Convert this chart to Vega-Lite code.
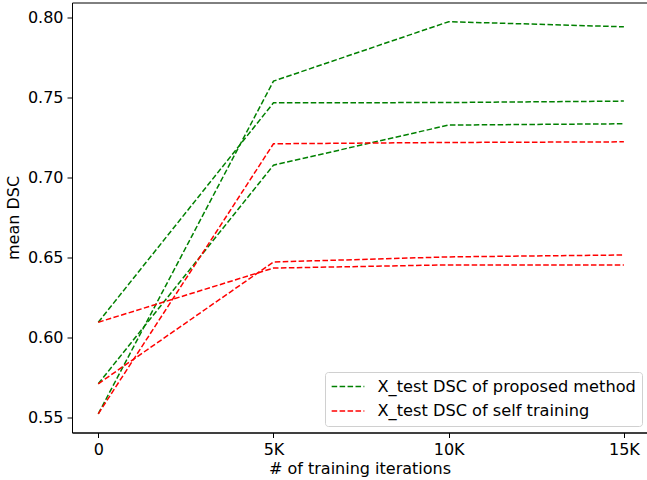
{
  "$schema": "https://vega.github.io/schema/vega-lite/v6.json",
  "autosize": {"type": "none"},
  "padding": {"left": 72, "top": 2.5, "right": 0, "bottom": 47.5},
  "width": 575,
  "height": 430,
  "config": {
    "view": {"stroke": "black", "strokeWidth": 1},
    "font": "DejaVu Sans",
    "axis": {
      "grid": false,
      "domainColor": "black",
      "tickColor": "black",
      "tickSize": 5,
      "labelColor": "black",
      "titleColor": "black",
      "labelFont": "DejaVu Sans",
      "titleFont": "DejaVu Sans",
      "labelFontSize": 16,
      "titleFontSize": 16,
      "titleFontWeight": "normal",
      "labelPadding": 4
    }
  },
  "data": {
    "values": [
      {"run": "g1", "series": "X_test DSC of proposed method", "iter": 0, "dsc": 0.6096},
      {"run": "g1", "series": "X_test DSC of proposed method", "iter": 5000, "dsc": 0.7469},
      {"run": "g1", "series": "X_test DSC of proposed method", "iter": 10000, "dsc": 0.7471},
      {"run": "g1", "series": "X_test DSC of proposed method", "iter": 15000, "dsc": 0.748},
      {"run": "g2", "series": "X_test DSC of proposed method", "iter": 0, "dsc": 0.5711},
      {"run": "g2", "series": "X_test DSC of proposed method", "iter": 5000, "dsc": 0.7079},
      {"run": "g2", "series": "X_test DSC of proposed method", "iter": 10000, "dsc": 0.733},
      {"run": "g2", "series": "X_test DSC of proposed method", "iter": 15000, "dsc": 0.7338},
      {"run": "g3", "series": "X_test DSC of proposed method", "iter": 0, "dsc": 0.5523},
      {"run": "g3", "series": "X_test DSC of proposed method", "iter": 5000, "dsc": 0.7605},
      {"run": "g3", "series": "X_test DSC of proposed method", "iter": 10000, "dsc": 0.7977},
      {"run": "g3", "series": "X_test DSC of proposed method", "iter": 15000, "dsc": 0.7945},
      {"run": "r1", "series": "X_test DSC of self training", "iter": 0, "dsc": 0.6096},
      {"run": "r1", "series": "X_test DSC of self training", "iter": 5000, "dsc": 0.6435},
      {"run": "r1", "series": "X_test DSC of self training", "iter": 10000, "dsc": 0.6455},
      {"run": "r1", "series": "X_test DSC of self training", "iter": 15000, "dsc": 0.6455},
      {"run": "r2", "series": "X_test DSC of self training", "iter": 0, "dsc": 0.5711},
      {"run": "r2", "series": "X_test DSC of self training", "iter": 5000, "dsc": 0.6473},
      {"run": "r2", "series": "X_test DSC of self training", "iter": 10000, "dsc": 0.6505},
      {"run": "r2", "series": "X_test DSC of self training", "iter": 15000, "dsc": 0.6517},
      {"run": "r3", "series": "X_test DSC of self training", "iter": 0, "dsc": 0.5523},
      {"run": "r3", "series": "X_test DSC of self training", "iter": 5000, "dsc": 0.7213},
      {"run": "r3", "series": "X_test DSC of self training", "iter": 10000, "dsc": 0.7221},
      {"run": "r3", "series": "X_test DSC of self training", "iter": 15000, "dsc": 0.7225}
    ]
  },
  "mark": {"type": "line", "strokeWidth": 1.5, "strokeDash": [5.55, 2.4]},
  "encoding": {
    "x": {
      "field": "iter",
      "type": "quantitative",
      "scale": {"domain": [-750, 15660], "nice": false, "zero": false},
      "axis": {
        "title": "# of training iterations",
        "values": [0, 5000, 10000, 15000],
        "labelExpr": "datum.value == 0 ? '0' : (datum.value / 1000) + 'K'",
        "labelPadding": 4,
        "titlePadding": 3
      }
    },
    "y": {
      "field": "dsc",
      "type": "quantitative",
      "scale": {"domain": [0.5406, 0.8097], "nice": false, "zero": false},
      "axis": {
        "title": "mean DSC",
        "values": [0.55, 0.6, 0.65, 0.7, 0.75, 0.8],
        "format": ".2f",
        "labelPadding": 4,
        "titlePadding": 6
      }
    },
    "detail": {"field": "run"},
    "color": {
      "field": "series",
      "type": "nominal",
      "scale": {
        "domain": ["X_test DSC of proposed method", "X_test DSC of self training"],
        "range": ["#008000", "#ff0000"]
      },
      "legend": {
        "title": null,
        "orient": "none",
        "legendX": 253,
        "legendY": 369.5,
        "symbolType": "stroke",
        "symbolStrokeWidth": 1.5,
        "symbolDash": [5.55, 2.4],
        "symbolSize": 1069,
        "clipHeight": 18,
        "labelFont": "DejaVu Sans",
        "labelFontSize": 16.2,
        "labelColor": "black",
        "labelLimit": 400,
        "labelOffset": 12,
        "rowPadding": 6.5,
        "padding": 5.5,
        "strokeColor": "#d0d0d0",
        "fillColor": "white",
        "cornerRadius": 3
      }
    }
  }
}
